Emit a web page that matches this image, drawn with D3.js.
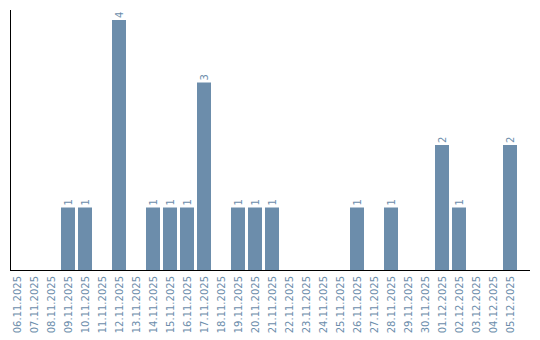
<!DOCTYPE html>
<html>
<head>
<meta charset="utf-8">
<script src="https://cdn.jsdelivr.net/npm/d3@7"></script>
<style>
  body { margin: 0; background: #fff; }
  text { font-family: "DejaVu Sans", sans-serif; }
</style>
</head>
<body>
<svg id="chart" width="540" height="340"></svg>
<script>
var days = ["06.11.2025", "07.11.2025", "08.11.2025", "09.11.2025", "10.11.2025",
    "11.11.2025", "12.11.2025", "13.11.2025", "14.11.2025", "15.11.2025",
    "16.11.2025", "17.11.2025", "18.11.2025", "19.11.2025", "20.11.2025",
    "21.11.2025", "22.11.2025", "23.11.2025", "24.11.2025", "25.11.2025",
    "26.11.2025", "27.11.2025", "28.11.2025", "29.11.2025", "30.11.2025",
    "01.12.2025", "02.12.2025", "03.12.2025", "04.12.2025", "05.12.2025"]
var counts = [0, 0, 0, 1, 1, 0, 4, 0, 1, 1, 1, 3, 0, 1, 1, 1, 0, 0, 0, 0,
    1, 0, 1, 0, 0, 2, 1, 0, 0, 2]

var color = '#6c8dab',
    svg = d3.select('#chart')

// step of 17px, bars 14px wide
var x = d3.scaleBand()
    .domain(days)
    .range([10, 517])
    .paddingInner(3 / 17)
    .paddingOuter(0)

var y = d3.scaleLinear()
    .domain([0, 4])
    .range([270, 20])

var data = days.map((d, i) => ({ day: d, value: counts[i] }))

svg.selectAll('.bar')
    .data(data.filter(d => d.value > 0))
    .enter()
    .append('rect')
    .attr('class', 'bar')
    .attr('x', d => x(d.day))
    .attr('width', x.bandwidth())
    .attr('y', d => y(d.value))
    .attr('height', d => y(0) - y(d.value))
    .attr('fill', color)

svg.selectAll('.val')
    .data(data.filter(d => d.value > 0))
    .enter()
    .append('text')
    .attr('class', 'val')
    .attr('transform', d => 'translate(' + (x(d.day) + x.bandwidth() / 2) + ',' + (y(d.value) - 2) + ') rotate(-90)')
    .attr('dy', '0.35em')
    .attr('font-size', 10)
    .attr('fill', color)
    .text(d => d.value)

// x axis labels
var xAxis = svg.append('g')
    .attr('transform', 'translate(0,270)')
    .call(d3.axisBottom(x).tickSize(0))
xAxis.select('.domain').remove()
xAxis.selectAll('text')
    .attr('font-family', '"DejaVu Sans", sans-serif')
    .attr('font-size', 10)
    .attr('fill', color)
    .attr('text-anchor', 'end')
    .attr('transform', 'rotate(-90)')
    .attr('x', -6)
    .attr('y', 0)
    .attr('dy', '0.35em')

// axis lines
svg.append('line')
    .attr('x1', 10.5).attr('x2', 10.5)
    .attr('y1', 10).attr('y2', 270)
    .attr('stroke', '#000')
svg.append('line')
    .attr('x1', 10).attr('x2', 530)
    .attr('y1', 270.5).attr('y2', 270.5)
    .attr('stroke', '#000')
</script>
</body>
</html>
